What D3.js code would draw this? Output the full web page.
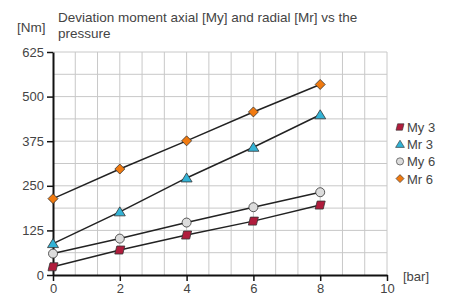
<!DOCTYPE html>
<html>
<head>
<meta charset="utf-8">
<script src="https://cdn.jsdelivr.net/npm/d3@7"></script>
<style>
  body { margin: 0; background: #fff; }
  text { font-family: "Liberation Sans", Arial, sans-serif; }
</style>
</head>
<body>
<svg width="453" height="298"></svg>
<script>
// pressure [bar]
const pressure = [0, 2, 4, 6, 8]
// moments [Nm]
const my3 = [23, 70, 112, 151, 196]
const mr3 = [88, 177, 272, 358, 449]
const my6 = [60, 102, 147, 190, 232]
const mr6 = [214, 297, 376, 457, 534]

const seriesNames = ['My 3', 'Mr 3', 'My 6', 'Mr 6']
const xTicks = [0, 2, 4, 6, 8, 10]
const yTicks = [0, 125, 250, 375, 500, 625]

const series = [
  { values: my3, shape: 'para', fill: '#b01c3c' },
  { values: mr3, shape: 'tri', fill: '#33b3d6' },
  { values: my6, shape: 'circle', fill: '#dcdcdc' },
  { values: mr6, shape: 'diamond', fill: '#f07a10' }
]

const svg = d3.select('svg')
const x = d3.scaleLinear().domain([0, 10]).range([53, 387])
const y = d3.scaleLinear().domain([0, 625]).range([275, 52])

// grid
const grid = svg.append('g')
grid.selectAll('line.v')
  .data(d3.range(1, 16).map(i => i * 10 / 15))
  .join('line')
  .attr('x1', d => x(d)).attr('x2', d => x(d))
  .attr('y1', y(0)).attr('y2', y(625))
  .attr('stroke', '#c8c8c8').attr('stroke-width', 1)
grid.selectAll('line.h')
  .data(d3.range(1, 11).map(i => i * 62.5))
  .join('line')
  .attr('x1', x(0)).attr('x2', x(10))
  .attr('y1', d => y(d)).attr('y2', d => y(d))
  .attr('stroke', '#c8c8c8').attr('stroke-width', 1)

// axes
const xAxis = d3.axisBottom(x).tickValues(xTicks).tickSize(6).tickPadding(3)
const yAxis = d3.axisLeft(y).tickValues(yTicks).tickSize(6).tickPadding(3)

const styleAxis = g => {
  g.select('.domain').attr('stroke', '#111').attr('stroke-width', 2)
  g.selectAll('.tick line').attr('stroke', '#111').attr('stroke-width', 1.5)
  g.selectAll('.tick text').attr('fill', '#444').attr('font-size', 13)
    .attr('font-family', '"Liberation Sans", Arial, sans-serif')
}

svg.append('g').attr('transform', `translate(0,${y(0)})`)
  .call(xAxis.tickSizeOuter(0)).call(styleAxis)
svg.append('g').attr('transform', `translate(${x(0)},0)`)
  .call(yAxis.tickSizeOuter(0)).call(styleAxis)

// titles
svg.append('text').attr('x', 17).attr('y', 32).attr('font-size', 13.5).attr('fill', '#444').text('[Nm]')
svg.append('text').attr('x', 58).attr('y', 22).attr('font-size', 13.5).attr('fill', '#444')
  .text('Deviation moment axial [My] and radial [Mr] vs the')
svg.append('text').attr('x', 58).attr('y', 38).attr('font-size', 13.5).attr('fill', '#444').text('pressure')
svg.append('text').attr('x', 403).attr('y', 281).attr('font-size', 13).attr('fill', '#444').text('[bar]')

const marker = (sel, shape) => {
  if (shape === 'para') sel.append('path').attr('d', 'M-3,-4 L5,-4 L3,4 L-5,4 Z')
  else if (shape === 'tri') sel.append('path').attr('d', 'M0,-5 L5.5,4 L-5.5,4 Z')
  else if (shape === 'circle') sel.append('circle').attr('r', 4.5)
  else sel.append('path').attr('d', 'M0,-5 L5,0 L0,5 L-5,0 Z')
}

const line = d3.line().x(d => x(d[0])).y(d => y(d[1]))

series.forEach(s => {
  const pts = pressure.map((p, i) => [p, s.values[i]])
  svg.append('path').datum(pts).attr('d', line)
    .attr('fill', 'none').attr('stroke', '#222').attr('stroke-width', 1.5)
  svg.append('g').selectAll('g').data(pts).join('g')
    .attr('transform', d => `translate(${x(d[0])},${y(d[1])})`)
    .each(function () { marker(d3.select(this), s.shape) })
    .selectAll('path,circle')
    .attr('fill', s.fill).attr('stroke', '#333').attr('stroke-width', 0.8)
})

// legend
const legend = svg.append('g').attr('transform', 'translate(400,127)')
legend.selectAll('g').data(series).join('g')
  .attr('transform', (d, i) => `translate(0,${i * 17.2})`)
  .each(function (d, i) {
    const g = d3.select(this)
    const m = g.append('g').attr('transform', 'scale(0.8)')
    marker(m, d.shape)
    m.selectAll('path,circle').attr('fill', d.fill).attr('stroke', '#333').attr('stroke-width', 0.8)
    g.append('text').attr('x', 7).attr('y', 5).attr('font-size', 13).attr('fill', '#444').text(seriesNames[i])
  })
</script>
</body>
</html>
